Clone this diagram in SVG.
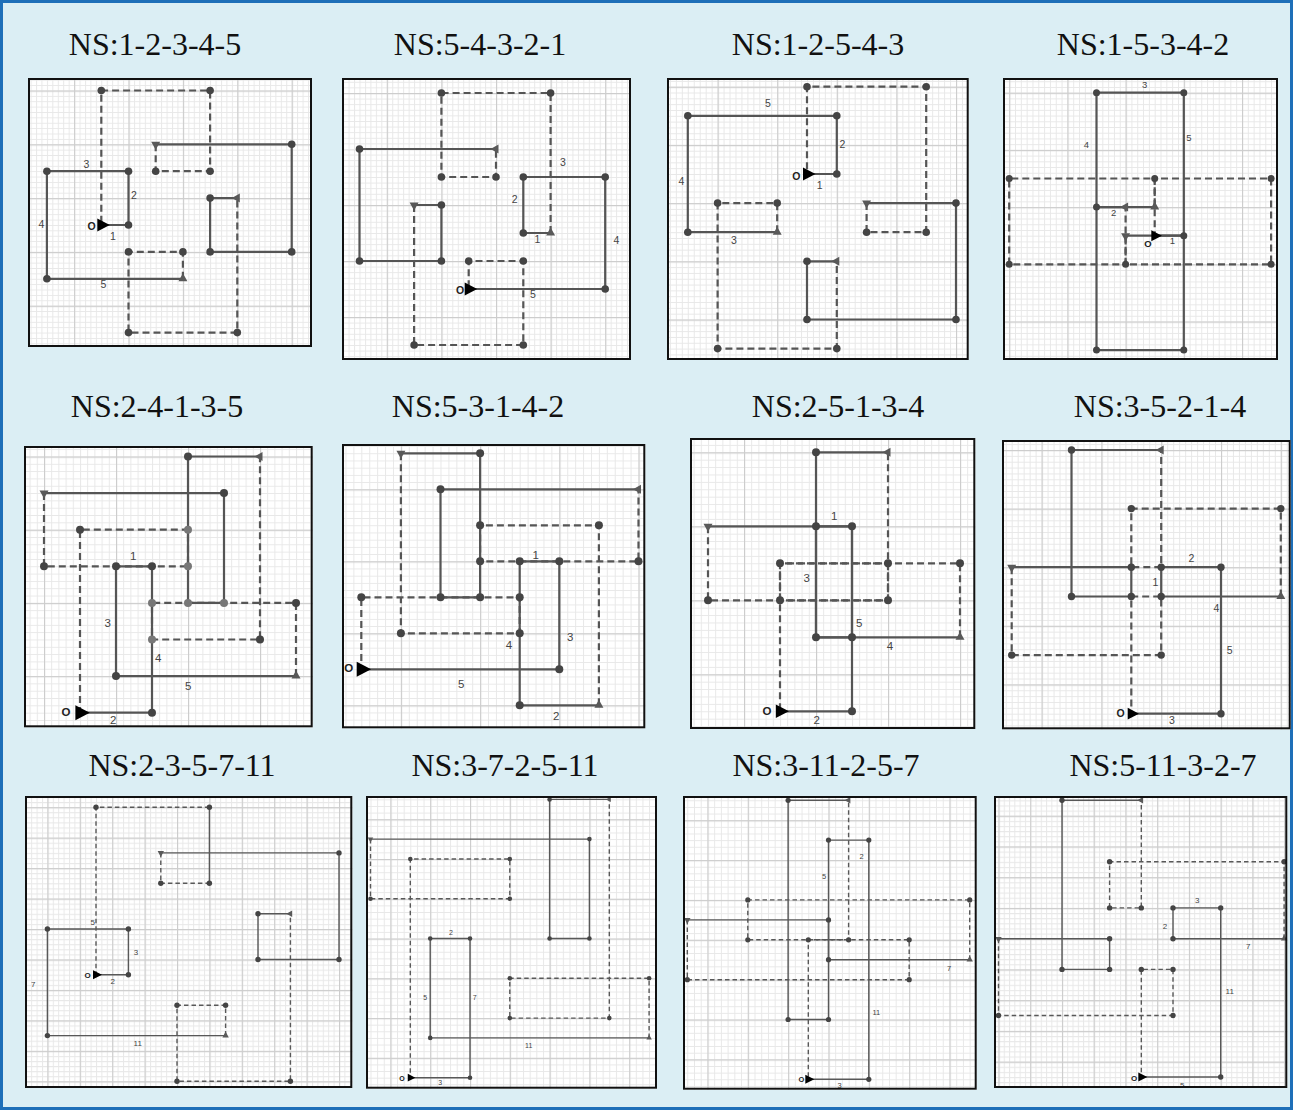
<svg xmlns="http://www.w3.org/2000/svg" xmlns:xlink="http://www.w3.org/1999/xlink" width="1293" height="1110" viewBox="0 0 1293 1110">
<defs>
<style>
.title{font-family:"Liberation Serif","Times New Roman",serif;font-size:32px;fill:#111;text-anchor:middle}
.frame{fill:none;stroke:#111;stroke-width:2}
.bg{fill:#fff}
.mn{fill:none;stroke:#e8e8e8;stroke-width:1}
.mj{fill:none;stroke:#cdcdcd;stroke-width:1.3}
.s{fill:none;stroke:#555;stroke-width:2.2;stroke-linejoin:miter}
.d{fill:none;stroke:#555;stroke-width:2.2;stroke-dasharray:7 4}
.s3{fill:none;stroke:#585858;stroke-width:1.4}
.d3{fill:none;stroke:#585858;stroke-width:1.4;stroke-dasharray:4.5 3}
.dot{fill:#444}
.mk{fill:#595959}
.lbl{font-family:"Liberation Sans",Arial,sans-serif;fill:#444;text-anchor:middle}
.o{font-family:"Liberation Sans",Arial,sans-serif;fill:#222;font-weight:bold;text-anchor:middle}
</style>
<path id="tri" class="mk" d="M0 -5.5L4.5 2.5L-4.5 2.5Z"/>
<path id="tri3" class="mk" d="M0 -4L3.2 1.8L-3.2 1.8Z"/>
<path id="big" fill="#000" d="M-4 -6.5L8.5 0L-4 6.5Z"/>
<path id="big3" fill="#000" d="M-3 -4.5L6 0L-3 4.5Z"/>
<pattern id="m1" patternUnits="userSpaceOnUse" x="101.3" y="225" width="5.44" height="5.38"><path class="mn" d="M0.5 0V5.38M0 0.5H5.44"/></pattern>
<pattern id="M1" patternUnits="userSpaceOnUse" x="128.5" y="251.9" width="54.4" height="53.8"><path class="mj" d="M0.5 0V53.8M0 0.5H54.4"/></pattern>
<pattern id="m2" patternUnits="userSpaceOnUse" x="468.7" y="289" width="5.46" height="5.6"><path class="mn" d="M0.5 0V5.6M0 0.5H5.46"/></pattern>
<pattern id="M2" patternUnits="userSpaceOnUse" x="496" y="317" width="54.6" height="56"><path class="mj" d="M0.5 0V56M0 0.5H54.6"/></pattern>
<pattern id="m3" patternUnits="userSpaceOnUse" x="807" y="174" width="5.96" height="5.82"><path class="mn" d="M0.5 0V5.82M0 0.5H5.96"/></pattern>
<pattern id="M3" patternUnits="userSpaceOnUse" x="836.8" y="203.1" width="59.6" height="58.2"><path class="mj" d="M0.5 0V58.2M0 0.5H59.6"/></pattern>
<pattern id="m4" patternUnits="userSpaceOnUse" x="1154.7" y="235.7" width="5.82" height="5.72"><path class="mn" d="M0.5 0V5.72M0 0.5H5.82"/></pattern>
<pattern id="M4" patternUnits="userSpaceOnUse" x="1183.8" y="264.3" width="58.2" height="57.2"><path class="mj" d="M0.5 0V57.2M0 0.5H58.2"/></pattern>
<pattern id="m5" patternUnits="userSpaceOnUse" x="80" y="712.7" width="7.2" height="7.32"><path class="mn" d="M0.5 0V7.32M0 0.5H7.2"/></pattern>
<pattern id="M5" patternUnits="userSpaceOnUse" x="116" y="749.3" width="72" height="73.2"><path class="mj" d="M0.5 0V73.2M0 0.5H72"/></pattern>
<pattern id="m6" patternUnits="userSpaceOnUse" x="361.3" y="669.3" width="7.92" height="7.2"><path class="mn" d="M0.5 0V7.2M0 0.5H7.92"/></pattern>
<pattern id="M6" patternUnits="userSpaceOnUse" x="400.9" y="705.3" width="79.2" height="72"><path class="mj" d="M0.5 0V72M0 0.5H79.2"/></pattern>
<pattern id="m7" patternUnits="userSpaceOnUse" x="780" y="711.3" width="7.2" height="7.4"><path class="mn" d="M0.5 0V7.4M0 0.5H7.2"/></pattern>
<pattern id="M7" patternUnits="userSpaceOnUse" x="816" y="748.3" width="72" height="74"><path class="mj" d="M0.5 0V74M0 0.5H72"/></pattern>
<pattern id="m8" patternUnits="userSpaceOnUse" x="1131.3" y="713.7" width="5.98" height="5.86"><path class="mn" d="M0.5 0V5.86M0 0.5H5.98"/></pattern>
<pattern id="M8" patternUnits="userSpaceOnUse" x="1161.2" y="743" width="59.8" height="58.6"><path class="mj" d="M0.5 0V58.6M0 0.5H59.8"/></pattern>
<pattern id="m9" patternUnits="userSpaceOnUse" x="96" y="974.7" width="5.4" height="5.077"><path class="mn" d="M0.5 0V5.077M0 0.5H5.4"/></pattern>
<pattern id="M9" patternUnits="userSpaceOnUse" x="112.2" y="989.93" width="32.4" height="30.46"><path class="mj" d="M0.5 0V30.46M0 0.5H32.4"/></pattern>
<pattern id="m10" patternUnits="userSpaceOnUse" x="410.3" y="1077.7" width="6.633" height="6.627"><path class="mn" d="M0.5 0V6.627M0 0.5H6.633"/></pattern>
<pattern id="M10" patternUnits="userSpaceOnUse" x="430.2" y="1097.58" width="39.8" height="39.76"><path class="mj" d="M0.5 0V39.76M0 0.5H39.8"/></pattern>
<pattern id="m11" patternUnits="userSpaceOnUse" x="808.3" y="1079.3" width="6.723" height="6.643"><path class="mn" d="M0.5 0V6.643M0 0.5H6.723"/></pattern>
<pattern id="M11" patternUnits="userSpaceOnUse" x="828.47" y="1099.23" width="40.34" height="39.86"><path class="mj" d="M0.5 0V39.86M0 0.5H40.34"/></pattern>
<pattern id="m12" patternUnits="userSpaceOnUse" x="1141.3" y="1077" width="5.29" height="5.123"><path class="mn" d="M0.5 0V5.123M0 0.5H5.29"/></pattern>
<pattern id="M12" patternUnits="userSpaceOnUse" x="1157.17" y="1092.37" width="31.74" height="30.74"><path class="mj" d="M0.5 0V30.74M0 0.5H31.74"/></pattern>
</defs>

<rect x="1.5" y="1.5" width="1290" height="1107" fill="#dbeef4" stroke="#1e6fb8" stroke-width="3"/>

<!-- Panel 1 -->
<g id="panel-1">
<text class="title" x="155" y="55">NS:1-2-3-4-5</text>
<rect class="bg" x="28" y="78" width="284" height="269"/>
<rect fill="url(#m1)" x="28" y="78" width="284" height="269"/>
<rect fill="url(#M1)" x="28" y="78" width="284" height="269"/>
<g id="panel-1-connectors">
<path class="s" d="M101.3 225H128.5V171.2H46.9V278.8H182.9"/>
<path class="d" d="M182.9 278.8V251.9H128.5V332.6H237.3V198.1"/>
<path class="s" d="M237.3 198.1H210.1V251.9H291.7V144.3H155.7"/>
<path class="d" d="M155.7 144.3V171.2H210.1V90.5H101.3V225"/>
</g>
<g class="dot">
<circle cx="128.5" cy="225" r="3.8"/><circle cx="128.5" cy="171.2" r="3.8"/><circle cx="46.9" cy="171.2" r="3.8"/><circle cx="46.9" cy="278.8" r="3.8"/>
<circle cx="182.9" cy="251.9" r="3.8"/><circle cx="128.5" cy="251.9" r="3.8"/><circle cx="128.5" cy="332.6" r="3.8"/><circle cx="237.3" cy="332.6" r="3.8"/>
<circle cx="210.1" cy="198.1" r="3.8"/><circle cx="210.1" cy="251.9" r="3.8"/><circle cx="291.7" cy="251.9" r="3.8"/><circle cx="291.7" cy="144.3" r="3.8"/>
<circle cx="155.7" cy="171.2" r="3.8"/><circle cx="210.1" cy="171.2" r="3.8"/><circle cx="210.1" cy="90.5" r="3.8"/><circle cx="101.3" cy="90.5" r="3.8"/>
</g>
<use href="#tri" transform="translate(182.9 278.8)"/>
<use href="#tri" transform="translate(237.3 198.1) rotate(-90)"/>
<use href="#tri" transform="translate(155.7 144.3) rotate(180)"/>
<use href="#big" transform="translate(101.3 225)"/>
<g font-size="10.5">
<text class="lbl" x="113" y="240">1</text><text class="lbl" x="134" y="199.4">2</text><text class="lbl" x="86.3" y="167.7">3</text><text class="lbl" x="41.3" y="227.7">4</text><text class="lbl" x="103.3" y="287.7">5</text><text class="o" x="91.7" y="230.4">O</text>
</g>
<rect class="frame" x="29" y="79" width="282" height="267"/>
</g>

<!-- Panel 2 -->
<g id="panel-2">
<text class="title" x="480" y="55">NS:5-4-3-2-1</text>
<rect class="bg" x="342" y="78" width="289" height="282"/>
<rect fill="url(#m2)" x="342" y="78" width="289" height="282"/>
<rect fill="url(#M2)" x="342" y="78" width="289" height="282"/>
<g id="panel-2-connectors">
<path class="s" d="M468.7 289H605.2V177H523.3V233H550.6"/>
<path class="d" d="M550.6 233V93H441.4V177H496V149"/>
<path class="s" d="M496 149H359.5V261H441.4V205H414.1"/>
<path class="d" d="M414.1 205V345H523.3V261H468.7V289"/>
</g>
<g class="dot">
<circle cx="605.2" cy="289" r="3.8"/><circle cx="605.2" cy="177" r="3.8"/><circle cx="523.3" cy="177" r="3.8"/><circle cx="523.3" cy="233" r="3.8"/>
<circle cx="550.6" cy="93" r="3.8"/><circle cx="441.4" cy="93" r="3.8"/><circle cx="441.4" cy="177" r="3.8"/><circle cx="496" cy="177" r="3.8"/>
<circle cx="359.5" cy="149" r="3.8"/><circle cx="359.5" cy="261" r="3.8"/><circle cx="441.4" cy="261" r="3.8"/><circle cx="441.4" cy="205" r="3.8"/>
<circle cx="414.1" cy="345" r="3.8"/><circle cx="523.3" cy="345" r="3.8"/><circle cx="523.3" cy="261" r="3.8"/><circle cx="468.7" cy="261" r="3.8"/>
</g>
<use href="#tri" transform="translate(550.6 233)"/>
<use href="#tri" transform="translate(496 149) rotate(-90)"/>
<use href="#tri" transform="translate(414.1 205) rotate(180)"/>
<use href="#big" transform="translate(468.7 289)"/>
<g font-size="10.5">
<text class="lbl" x="537.3" y="243.4">1</text><text class="lbl" x="514.7" y="203.4">2</text><text class="lbl" x="563" y="166">3</text><text class="lbl" x="616.3" y="243.7">4</text><text class="lbl" x="533" y="298.4">5</text><text class="o" x="460" y="293.7">O</text>
</g>
<rect class="frame" x="343" y="79" width="287" height="280"/>
</g>

<!-- Panel 3 -->
<g id="panel-3">
<text class="title" x="818" y="55">NS:1-2-5-4-3</text>
<rect class="bg" x="667" y="78" width="301.7" height="282"/>
<rect fill="url(#m3)" x="667" y="78" width="301.7" height="282"/>
<rect fill="url(#M3)" x="667" y="78" width="301.7" height="282"/>
<g id="panel-3-connectors">
<path class="s" d="M807 174H836.8V115.8H687.8V232.2H777.2"/>
<path class="d" d="M777.2 232.2V203.1H717.6V348.6H836.8V261.3"/>
<path class="s" d="M836.8 261.3H807V319.5H956V203.1H866.6"/>
<path class="d" d="M866.6 203.1V232.2H926.2V86.7H807V174"/>
</g>
<g class="dot">
<circle cx="836.8" cy="174" r="3.8"/><circle cx="836.8" cy="115.8" r="3.8"/><circle cx="687.8" cy="115.8" r="3.8"/><circle cx="687.8" cy="232.2" r="3.8"/>
<circle cx="777.2" cy="203.1" r="3.8"/><circle cx="717.6" cy="203.1" r="3.8"/><circle cx="717.6" cy="348.6" r="3.8"/><circle cx="836.8" cy="348.6" r="3.8"/>
<circle cx="807" cy="261.3" r="3.8"/><circle cx="807" cy="319.5" r="3.8"/><circle cx="956" cy="319.5" r="3.8"/><circle cx="956" cy="203.1" r="3.8"/>
<circle cx="866.6" cy="232.2" r="3.8"/><circle cx="926.2" cy="232.2" r="3.8"/><circle cx="926.2" cy="86.7" r="3.8"/><circle cx="807" cy="86.7" r="3.8"/>
</g>
<use href="#tri" transform="translate(777.2 232.2)"/>
<use href="#tri" transform="translate(836.8 261.3) rotate(-90)"/>
<use href="#tri" transform="translate(866.6 203.1) rotate(180)"/>
<use href="#big" transform="translate(807 174)"/>
<g font-size="10.5">
<text class="lbl" x="819.7" y="189.4">1</text><text class="lbl" x="842.3" y="148.4">2</text><text class="lbl" x="734" y="244.4">3</text><text class="lbl" x="681.3" y="185">4</text><text class="lbl" x="768" y="107">5</text><text class="o" x="796.3" y="180.4">O</text>
</g>
<rect class="frame" x="668" y="79" width="299.7" height="280"/>
</g>

<!-- Panel 4 -->
<g id="panel-4">
<text class="title" x="1143" y="55">NS:1-5-3-4-2</text>
<rect class="bg" x="1003" y="78" width="275" height="282"/>
<rect fill="url(#m4)" x="1003" y="78" width="275" height="282"/>
<rect fill="url(#M4)" x="1003" y="78" width="275" height="282"/>
<g id="panel-4-connectors">
<path class="s" d="M1154.7 235.7H1183.8V92.7H1096.5V207.1H1154.7"/>
<path class="d" d="M1154.7 207.1V178.5H1009.2V264.3H1125.6V207.1"/>
<path class="s" d="M1125.6 207.1H1096.5V350.1H1183.8V235.7H1125.6"/>
<path class="d" d="M1125.6 235.7V264.3H1271.1V178.5H1154.7V235.7"/>
</g>
<g class="dot">
<circle cx="1183.8" cy="235.7" r="3.5"/><circle cx="1183.8" cy="92.7" r="3.5"/><circle cx="1096.5" cy="92.7" r="3.5"/><circle cx="1096.5" cy="207.1" r="3.5"/>
<circle cx="1154.7" cy="178.5" r="3.5"/><circle cx="1009.2" cy="178.5" r="3.5"/><circle cx="1009.2" cy="264.3" r="3.5"/><circle cx="1125.6" cy="264.3" r="3.5"/>
<circle cx="1096.5" cy="350.1" r="3.5"/><circle cx="1183.8" cy="350.1" r="3.5"/>
<circle cx="1271.1" cy="264.3" r="3.5"/><circle cx="1271.1" cy="178.5" r="3.5"/>
</g>
<use href="#tri" transform="translate(1154.7 207.1)"/>
<use href="#tri" transform="translate(1125.6 207.1) rotate(-90)"/>
<use href="#tri" transform="translate(1125.6 235.7) rotate(180)"/>
<use href="#big" transform="translate(1154.7 235.7) scale(0.85)"/>
<g font-size="9.5">
<text class="lbl" x="1172.3" y="244">1</text><text class="lbl" x="1113.7" y="215.6">2</text><text class="lbl" x="1144.7" y="88">3</text><text class="lbl" x="1086.3" y="148.3">4</text><text class="lbl" x="1189" y="140.6">5</text><text class="o" x="1148" y="247.3">O</text>
</g>
<rect class="frame" x="1004" y="79" width="273" height="280"/>
</g>

<!-- Panel 5 -->
<g id="panel-5">
<text class="title" x="157" y="417">NS:2-4-1-3-5</text>
<rect class="bg" x="24" y="446" width="288.7" height="281.3"/>
<rect fill="url(#m5)" x="24" y="446" width="288.7" height="281.3"/>
<rect fill="url(#M5)" x="24" y="446" width="288.7" height="281.3"/>
<g id="panel-5-connectors">
<path class="s" d="M80 712.7H152V566.3H116V676.1H296"/>
<path class="d" d="M296 676.1V602.9H152V639.5H260V456.5"/>
<path class="s" d="M260 456.5H188V602.9H224V493.1H44"/>
<path class="d" d="M44 493.1V566.3H188V529.7H80V712.7"/>
</g>
<g class="dot">
<circle cx="152" cy="712.7" r="4"/><circle cx="152" cy="566.3" r="4"/><circle cx="116" cy="566.3" r="4"/><circle cx="116" cy="676.1" r="4"/>
<circle cx="296" cy="602.9" r="4"/><circle cx="152" cy="602.9" r="4" fill="#777"/><circle cx="152" cy="639.5" r="4" fill="#777"/><circle cx="260" cy="639.5" r="4"/>
<circle cx="188" cy="456.5" r="4"/><circle cx="188" cy="602.9" r="4" fill="#777"/><circle cx="224" cy="602.9" r="4" fill="#777"/><circle cx="224" cy="493.1" r="4"/>
<circle cx="44" cy="566.3" r="4"/><circle cx="188" cy="566.3" r="4" fill="#777"/><circle cx="188" cy="529.7" r="4" fill="#777"/><circle cx="80" cy="529.7" r="4"/>
</g>
<use href="#tri" transform="translate(296 676.1)"/>
<use href="#tri" transform="translate(260 456.5) rotate(-90)"/>
<use href="#tri" transform="translate(44 493.1) rotate(180)"/>
<use href="#big" transform="translate(80 712.7) scale(1.15)"/>
<g font-size="11.5">
<text class="lbl" x="133.3" y="560">1</text><text class="lbl" x="113.3" y="724">2</text><text class="lbl" x="107.7" y="627.4">3</text><text class="lbl" x="158.3" y="662.4">4</text><text class="lbl" x="188.3" y="690">5</text><text class="o" x="66" y="715.8">O</text>
</g>
<rect class="frame" x="25" y="447" width="286.7" height="279.3"/>
</g>

<!-- Panel 6 -->
<g id="panel-6">
<text class="title" x="478" y="417">NS:5-3-1-4-2</text>
<rect class="bg" x="342" y="444" width="303.3" height="284.3"/>
<rect fill="url(#m6)" x="342" y="444" width="303.3" height="284.3"/>
<rect fill="url(#M6)" x="342" y="444" width="303.3" height="284.3"/>
<g id="panel-6-connectors">
<path class="s" d="M361.3 669.3H559.3V561.3H519.7V705.3H598.9"/>
<path class="d" d="M598.9 705.3V525.3H480.1V561.3H638.5V489.3"/>
<path class="s" d="M638.5 489.3H440.5V597.3H480.1V453.3H400.9"/>
<path class="d" d="M400.9 453.3V633.3H519.7V597.3H361.3V669.3"/>
</g>
<g class="dot">
<circle cx="559.3" cy="669.3" r="4"/><circle cx="559.3" cy="561.3" r="4"/><circle cx="519.7" cy="561.3" r="4"/><circle cx="519.7" cy="705.3" r="4"/>
<circle cx="598.9" cy="525.3" r="4"/><circle cx="480.1" cy="525.3" r="4"/><circle cx="480.1" cy="561.3" r="4"/><circle cx="638.5" cy="561.3" r="4"/>
<circle cx="440.5" cy="489.3" r="4"/><circle cx="440.5" cy="597.3" r="4"/><circle cx="480.1" cy="597.3" r="4"/><circle cx="480.1" cy="453.3" r="4"/>
<circle cx="400.9" cy="633.3" r="4"/><circle cx="519.7" cy="633.3" r="4"/><circle cx="519.7" cy="597.3" r="4"/><circle cx="361.3" cy="597.3" r="4"/>
</g>
<use href="#tri" transform="translate(598.9 705.3)"/>
<use href="#tri" transform="translate(638.5 489.3) rotate(-90)"/>
<use href="#tri" transform="translate(400.9 453.3) rotate(180)"/>
<use href="#big" transform="translate(361.3 669.3) scale(1.15)"/>
<g font-size="11.5">
<text class="lbl" x="535.7" y="559">1</text><text class="lbl" x="556.3" y="719.8">2</text><text class="lbl" x="570.3" y="640.8">3</text><text class="lbl" x="509" y="649">4</text><text class="lbl" x="461.3" y="688.4">5</text><text class="o" x="348.7" y="672.4">O</text>
</g>
<rect class="frame" x="343" y="445" width="301.3" height="282.3"/>
</g>

<!-- Panel 7 -->
<g id="panel-7">
<text class="title" x="838" y="417">NS:2-5-1-3-4</text>
<rect class="bg" x="690" y="438" width="285.3" height="291"/>
<rect fill="url(#m7)" x="690" y="438" width="285.3" height="291"/>
<rect fill="url(#M7)" x="690" y="438" width="285.3" height="291"/>
<g id="panel-7-connectors">
<path class="s" d="M780 711.3H852V526.3H816V637.3H960"/>
<path class="d" d="M960 637.3V563.3H780V600.3H888V452.3"/>
<path class="s" d="M888 452.3H816V637.3H852V526.3H708"/>
<path class="d" d="M708 526.3V600.3H888V563.3H780V711.3"/>
</g>
<g class="dot">
<circle cx="852" cy="711.3" r="4"/><circle cx="852" cy="526.3" r="4"/><circle cx="816" cy="526.3" r="4"/><circle cx="816" cy="637.3" r="4"/>
<circle cx="960" cy="563.3" r="4"/><circle cx="780" cy="563.3" r="4"/><circle cx="780" cy="600.3" r="4"/><circle cx="888" cy="600.3" r="4"/>
<circle cx="816" cy="452.3" r="4"/><circle cx="852" cy="637.3" r="4"/>
<circle cx="708" cy="600.3" r="4"/><circle cx="888" cy="563.3" r="4"/>
</g>
<use href="#tri" transform="translate(960 637.3)"/>
<use href="#tri" transform="translate(888 452.3) rotate(-90)"/>
<use href="#tri" transform="translate(708 526.3) rotate(180)"/>
<use href="#big" transform="translate(780 711.3) scale(1.05)"/>
<g font-size="11.5">
<text class="lbl" x="834.3" y="520.4">1</text><text class="lbl" x="816.7" y="724">2</text><text class="lbl" x="806.7" y="582">3</text><text class="lbl" x="890" y="649.8">4</text><text class="lbl" x="859.3" y="626.8">5</text><text class="o" x="767" y="715.4">O</text>
</g>
<rect class="frame" x="691" y="439" width="283.3" height="289"/>
</g>

<!-- Panel 8 -->
<g id="panel-8">
<text class="title" x="1160" y="417">NS:3-5-2-1-4</text>
<rect class="bg" x="1002" y="440" width="288.7" height="289.3"/>
<rect fill="url(#m8)" x="1002" y="440" width="288.7" height="289.3"/>
<rect fill="url(#M8)" x="1002" y="440" width="288.7" height="289.3"/>
<g id="panel-8-connectors">
<path class="s" d="M1131.3 713.7H1221V567.2H1161.2V596.5H1280.8"/>
<path class="d" d="M1280.8 596.5V508.6H1131.3V567.2H1161.2V450"/>
<path class="s" d="M1161.2 450H1071.5V596.5H1131.3V567.2H1011.7"/>
<path class="d" d="M1011.7 567.2V655.1H1161.2V596.5H1131.3V713.7"/>
</g>
<g class="dot">
<circle cx="1221" cy="713.7" r="3.7"/><circle cx="1221" cy="567.2" r="3.7"/><circle cx="1161.2" cy="567.2" r="3.7"/><circle cx="1161.2" cy="596.5" r="3.7"/>
<circle cx="1280.8" cy="508.6" r="3.7"/><circle cx="1131.3" cy="508.6" r="3.7"/><circle cx="1131.3" cy="567.2" r="3.7"/>
<circle cx="1071.5" cy="450" r="3.7"/><circle cx="1071.5" cy="596.5" r="3.7"/><circle cx="1131.3" cy="596.5" r="3.7"/>
<circle cx="1011.7" cy="655.1" r="3.7"/><circle cx="1161.2" cy="655.1" r="3.7"/>
</g>
<use href="#tri" transform="translate(1280.8 596.5)"/>
<use href="#tri" transform="translate(1161.2 450) rotate(-90)"/>
<use href="#tri" transform="translate(1011.7 567.2) rotate(180)"/>
<use href="#big" transform="translate(1131.3 713.7) scale(0.9)"/>
<g font-size="10.5">
<text class="lbl" x="1155.3" y="586.4">1</text><text class="lbl" x="1191.3" y="562">2</text><text class="lbl" x="1172" y="724">3</text><text class="lbl" x="1216.3" y="612">4</text><text class="lbl" x="1229.7" y="654">5</text><text class="o" x="1120.7" y="717.4">O</text>
</g>
<rect class="frame" x="1003" y="441" width="286.7" height="287.3"/>
</g>

<!-- Panel 9 -->
<g id="panel-9">
<text class="title" x="182" y="776">NS:2-3-5-7-11</text>
<rect class="bg" x="25" y="796" width="327.3" height="292"/>
<rect fill="url(#m9)" x="25" y="796" width="327.3" height="292"/>
<rect fill="url(#M9)" x="25" y="796" width="327.3" height="292"/>
<g id="panel-9-connectors">
<path class="s3" d="M96 974.7H128.4V929H47.4V1035.6H225.6"/>
<path class="d3" d="M225.6 1035.6V1005.2H177V1081.3H290.4V913.8"/>
<path class="s3" d="M290.4 913.8H258V959.5H339V852.9H160.8"/>
<path class="d3" d="M160.8 852.9V883.3H209.4"/>
<path class="s3" d="M209.4 883.3V807.2"/>
<path class="d3" d="M209.4 807.2H96V974.7"/>
</g>
<g class="dot">
<circle cx="128.4" cy="974.7" r="2.7"/><circle cx="128.4" cy="929" r="2.7"/><circle cx="47.4" cy="929" r="2.7"/><circle cx="47.4" cy="1035.6" r="2.7"/>
<circle cx="225.6" cy="1005.2" r="2.7"/><circle cx="177" cy="1005.2" r="2.7"/><circle cx="177" cy="1081.3" r="2.7"/><circle cx="290.4" cy="1081.3" r="2.7"/>
<circle cx="258" cy="913.8" r="2.7"/><circle cx="258" cy="959.5" r="2.7"/><circle cx="339" cy="959.5" r="2.7"/><circle cx="339" cy="852.9" r="2.7"/>
<circle cx="160.8" cy="883.3" r="2.7"/><circle cx="209.4" cy="883.3" r="2.7"/><circle cx="209.4" cy="807.2" r="2.7"/><circle cx="96" cy="807.2" r="2.7"/>
</g>
<use href="#tri3" transform="translate(225.6 1035.6)"/>
<use href="#tri3" transform="translate(290.4 913.8) rotate(-90)"/>
<use href="#tri3" transform="translate(160.8 852.9) rotate(180)"/>
<use href="#big3" transform="translate(96 974.7)"/>
<g font-size="8">
<text class="lbl" x="112.7" y="983.8">2</text><text class="lbl" x="136" y="954.8">3</text><text class="lbl" x="92.7" y="924.8">5</text><text class="lbl" x="33.3" y="987.1">7</text><text class="lbl" x="137.7" y="1045.5">11</text><text class="o" x="87.7" y="977.5" font-weight="normal">O</text>
</g>
<rect class="frame" x="26" y="797" width="325.3" height="290"/>
</g>

<!-- Panel 10 -->
<g id="panel-10">
<text class="title" x="505" y="776">NS:3-7-2-5-11</text>
<rect class="bg" x="366" y="796" width="291" height="292.7"/>
<rect fill="url(#m10)" x="366" y="796" width="291" height="292.7"/>
<rect fill="url(#M10)" x="366" y="796" width="291" height="292.7"/>
<g id="panel-10-connectors">
<path class="s3" stroke-width="1.15" d="M410.3 1077.7H470V938.5H430.2V1037.9H649.1"/>
<path class="d3" stroke-width="1.15" d="M649.1 1037.9V978.3H509.8V1018.1H609.3V799.4"/>
<path class="s3" stroke-width="1.15" d="M609.3 799.4H549.6V938.5H589.4V839.1H370.5"/>
<path class="d3" stroke-width="1.15" d="M370.5 839.1V898.8H509.8V859H410.3V1077.7"/>
</g>
<g class="dot">
<circle cx="470" cy="1077.7" r="2.3"/><circle cx="470" cy="938.5" r="2.3"/><circle cx="430.2" cy="938.5" r="2.3"/><circle cx="430.2" cy="1037.9" r="2.3"/>
<circle cx="649.1" cy="978.3" r="2.3"/><circle cx="509.8" cy="978.3" r="2.3"/><circle cx="509.8" cy="1018.1" r="2.3"/><circle cx="609.3" cy="1018.1" r="2.3"/>
<circle cx="549.6" cy="799.4" r="2.3"/><circle cx="549.6" cy="938.5" r="2.3"/><circle cx="589.4" cy="938.5" r="2.3"/><circle cx="589.4" cy="839.1" r="2.3"/>
<circle cx="370.5" cy="898.8" r="2.3"/><circle cx="509.8" cy="898.8" r="2.3"/><circle cx="509.8" cy="859" r="2.3"/><circle cx="410.3" cy="859" r="2.3"/>
</g>
<use href="#tri3" transform="translate(649.1 1037.9) scale(0.85)"/>
<use href="#tri3" transform="translate(609.3 799.4) rotate(-90) scale(0.85)"/>
<use href="#tri3" transform="translate(370.5 839.1) rotate(180) scale(0.85)"/>
<use href="#big3" transform="translate(410.3 1077.7) scale(0.85)"/>
<g font-size="7">
<text class="lbl" x="451" y="935.2">2</text><text class="lbl" x="440.3" y="1084.5">3</text><text class="lbl" x="425.3" y="1000.2">5</text><text class="lbl" x="474.7" y="999.5">7</text><text class="lbl" x="528.7" y="1047.8">11</text><text class="o" x="402" y="1080.5" font-weight="normal">O</text>
</g>
<rect class="frame" x="367" y="797" width="289" height="290.7"/>
</g>

<!-- Panel 11 -->
<g id="panel-11">
<text class="title" x="826" y="776">NS:3-11-2-5-7</text>
<rect class="bg" x="683" y="796" width="293.7" height="293.7"/>
<rect fill="url(#m11)" x="683" y="796" width="293.7" height="293.7"/>
<rect fill="url(#M11)" x="683" y="796" width="293.7" height="293.7"/>
<g id="panel-11-connectors">
<path class="s3" d="M808.3 1079.3H868.8V840.1H828.5V959.7H969.7"/>
<path class="d3" d="M969.7 959.7V899.9H747.8V939.8H848.6V800.3"/>
<path class="s3" d="M848.6 800.3H788.1V1019.5H828.5V919.9H687.3"/>
<path class="d3" d="M687.3 919.9V979.7H909.2V939.8H808.3V1079.3"/>
</g>
<g class="dot">
<circle cx="868.8" cy="1079.3" r="2.6"/><circle cx="868.8" cy="840.1" r="2.6"/><circle cx="828.5" cy="840.1" r="2.6"/><circle cx="828.5" cy="959.7" r="2.6"/>
<circle cx="969.7" cy="899.9" r="2.6"/><circle cx="747.8" cy="899.9" r="2.6"/><circle cx="747.8" cy="939.8" r="2.6"/><circle cx="848.6" cy="939.8" r="2.6"/>
<circle cx="788.1" cy="800.3" r="2.6"/><circle cx="788.1" cy="1019.5" r="2.6"/><circle cx="828.5" cy="1019.5" r="2.6"/><circle cx="828.5" cy="919.9" r="2.6"/>
<circle cx="687.3" cy="979.7" r="2.6"/><circle cx="909.2" cy="979.7" r="2.6"/><circle cx="909.2" cy="939.8" r="2.6"/><circle cx="808.3" cy="939.8" r="2.6"/>
</g>
<use href="#tri3" transform="translate(969.7 959.7)"/>
<use href="#tri3" transform="translate(848.6 800.3) rotate(-90)"/>
<use href="#tri3" transform="translate(687.3 919.9) rotate(180)"/>
<use href="#big3" transform="translate(808.3 1079.3)"/>
<g font-size="7.5">
<text class="lbl" x="861.7" y="858.6">2</text><text class="lbl" x="839.7" y="1087.9">3</text><text class="lbl" x="824" y="878.6">5</text><text class="lbl" x="949" y="970.6">7</text><text class="lbl" x="876.3" y="1014.6">11</text><text class="o" x="801.3" y="1081.9" font-weight="normal">O</text>
</g>
<rect class="frame" x="684" y="797" width="291.7" height="291.7"/>
</g>

<!-- Panel 12 -->
<g id="panel-12">
<text class="title" x="1163" y="776">NS:5-11-3-2-7</text>
<rect class="bg" x="994" y="796" width="293.3" height="292"/>
<rect fill="url(#m12)" x="994" y="796" width="293.3" height="292"/>
<rect fill="url(#M12)" x="994" y="796" width="293.3" height="292"/>
<g id="panel-12-connectors">
<path class="s3" d="M1141.3 1077H1220.7V907.9H1173V938.7H1284.1"/>
<path class="d3" d="M1284.1 938.7V861.8H1109.6V907.9H1141.3V800.3"/>
<path class="s3" d="M1141.3 800.3H1062V969.4H1109.6V938.7H998.5"/>
<path class="d3" d="M998.5 938.7V1015.5H1173V969.4H1141.3V1077"/>
</g>
<g class="dot">
<circle cx="1220.7" cy="1077" r="2.7"/><circle cx="1220.7" cy="907.9" r="2.7"/><circle cx="1173" cy="907.9" r="2.7"/><circle cx="1173" cy="938.7" r="2.7"/>
<circle cx="1284.1" cy="861.8" r="2.7"/><circle cx="1109.6" cy="861.8" r="2.7"/><circle cx="1109.6" cy="907.9" r="2.7"/><circle cx="1141.3" cy="907.9" r="2.7"/>
<circle cx="1062" cy="800.3" r="2.7"/><circle cx="1062" cy="969.4" r="2.7"/><circle cx="1109.6" cy="969.4" r="2.7"/><circle cx="1109.6" cy="938.7" r="2.7"/>
<circle cx="998.5" cy="1015.5" r="2.7"/><circle cx="1173" cy="1015.5" r="2.7"/><circle cx="1173" cy="969.4" r="2.7"/><circle cx="1141.3" cy="969.4" r="2.7"/>
</g>
<use href="#tri3" transform="translate(1284.1 938.7)"/>
<use href="#tri3" transform="translate(1141.3 800.3) rotate(-90)"/>
<use href="#tri3" transform="translate(998.5 938.7) rotate(180)"/>
<use href="#big3" transform="translate(1141.3 1077)"/>
<g font-size="8">
<text class="lbl" x="1165" y="928.8">2</text><text class="lbl" x="1197.3" y="903.1">3</text><text class="lbl" x="1182.3" y="1087.5">5</text><text class="lbl" x="1248.3" y="948.8">7</text><text class="lbl" x="1229.7" y="994.1">11</text><text class="o" x="1134" y="1080.8" font-weight="normal">O</text>
</g>
<rect class="frame" x="995" y="797" width="291.3" height="290"/>
</g>
</svg>
